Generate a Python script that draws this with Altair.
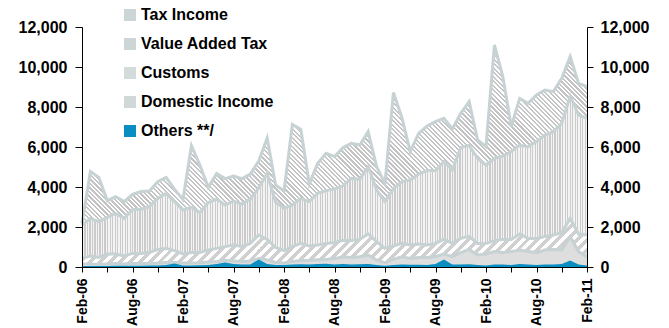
import math
import json
import altair as alt
import pandas as pd

# ---------------- data ----------------
MONTHS = list(range(61))  # month index, 0 = Feb-06 ... 60 = Feb-11
TICK_LABELS = ["Feb-06", "Aug-06", "Feb-07", "Aug-07", "Feb-08", "Aug-08",
               "Feb-09", "Aug-09", "Feb-10", "Aug-10", "Feb-11"]
Y_TICKS = [0, 2000, 4000, 6000, 8000, 10000, 12000]
SERIES = ["Tax Income", "Value Added Tax", "Customs", "Domestic Income", "Others **/"]

TAX_INCOME = [2200, 4770, 4480, 3320, 3520, 3270, 3630, 3770, 3800, 4270,
              4480, 3880, 3380, 6070, 5100, 3980, 4670, 4420, 4550, 4420,
              4650, 5300, 6450, 4100, 3800, 7130, 6880, 4150, 5180, 5680,
              5520, 5960, 6180, 6100, 6770, 5020, 4180, 8720, 7480, 5770,
              6680, 7050, 7270, 7430, 6900, 7680, 8270, 6350, 6020, 11100,
              9520, 7020, 8430, 8180, 8600, 8850, 8770, 9430, 10520, 9180, 9020]
VAT = [2100, 2430, 2270, 2480, 2680, 2430, 2880, 2880, 3020, 3430,
       3680, 3270, 2850, 2980, 2720, 3220, 3400, 3100, 3300, 3150,
       3400, 3950, 4670, 3250, 2930, 3100, 3430, 3270, 3680, 3820,
       3900, 4060, 4430, 4380, 5020, 3850, 3270, 3920, 4270, 4350,
       4650, 4820, 4820, 5270, 4850, 5980, 6080, 5430, 5100, 5430,
       5550, 5770, 6100, 6020, 6270, 6600, 6770, 7180, 8550, 7600, 7430]
CUSTOMS = [430, 550, 480, 650, 650, 550, 680, 680, 720, 880,
           930, 820, 650, 720, 720, 850, 930, 1020, 1100, 1030,
           1180, 1600, 1380, 980, 820, 1020, 1180, 1050, 1100, 1180,
           1230, 1330, 1320, 1380, 1650, 1270, 930, 1050, 1180, 1100,
           1150, 1100, 1180, 1380, 1180, 1430, 1530, 1180, 1180, 1320,
           1380, 1380, 1650, 1430, 1430, 1520, 1600, 1720, 2430, 1650, 1600]
DOMESTIC = [150, 150, 130, 150, 170, 150, 170, 170, 180, 200,
            230, 230, 200, 200, 210, 250, 280, 320, 300, 280,
            300, 420, 350, 230, 200, 280, 330, 340, 360, 380,
            420, 510, 480, 510, 600, 350, 200, 380, 510, 430,
            480, 480, 520, 650, 520, 720, 880, 600, 650, 770,
            720, 770, 850, 770, 720, 850, 880, 850, 1520, 770, 520]
OTHERS = [50, 50, 50, 50, 60, 60, 60, 60, 70, 80,
          100, 170, 80, 80, 90, 100, 150, 230, 150, 120,
          130, 380, 150, 100, 100, 130, 140, 120, 150, 160,
          120, 150, 130, 140, 150, 100, 60, 100, 120, 110,
          110, 100, 150, 380, 130, 120, 140, 100, 80, 120,
          130, 100, 150, 120, 100, 120, 130, 150, 330, 120, 80]

VALUES = [TAX_INCOME, VAT, CUSTOMS, DOMESTIC, OTHERS]

# ---------------- style ----------------
FONT = "Liberation Sans"
PLOT_W, PLOT_H = 505, 240
Y_MAX = 12000
LINE_COLOR = "#c6d2d3"
TEAL = "#0a8dc0"
LEGEND_COLORS = ["#cdd6d6", "#cdd6d6", "#d3dbdb", "#d0d8d8", TEAL]


def diag_gradient(W, H, period, c_line, c_bg, frac, direction):
    n = max(1, int(round((W + H) / (math.sqrt(2) * period))))
    D = W * W + H * H
    s = H * (W + H) / D
    if direction == "/":
        x1, y1, x2, y2 = 0, 0, s * W / H, s
    else:
        x1, y1, x2, y2 = 0, 1, s * W / H, 1 - s
    stops = []
    for i in range(n):
        a, b, c = i / n, (i + frac) / n, (i + 1) / n
        stops += [{"offset": round(a, 5), "color": c_line},
                  {"offset": round(b, 5), "color": c_line},
                  {"offset": round(b, 5), "color": c_bg},
                  {"offset": round(c, 5), "color": c_bg}]
    return {"gradient": "linear", "x1": x1, "y1": y1, "x2": x2, "y2": y2, "stops": stops}


def vert_gradient(W, period, c_line, c_bg, frac):
    n = max(1, int(round(W / period)))
    stops = []
    for i in range(n):
        a, b, c = i / n, (i + frac) / n, (i + 1) / n
        stops += [{"offset": round(a, 5), "color": c_line},
                  {"offset": round(b, 5), "color": c_line},
                  {"offset": round(b, 5), "color": c_bg},
                  {"offset": round(c, 5), "color": c_bg}]
    return {"gradient": "linear", "x1": 0, "y1": 0, "x2": 1, "y2": 0, "stops": stops}


def px_height(vals):
    return max(vals) / Y_MAX * PLOT_H


FILLS = [
    diag_gradient(PLOT_W, px_height(TAX_INCOME), 3.2, "#c4c4c4", "#ffffff", 0.5, "\\"),
    vert_gradient(PLOT_W, 2.5, "#cbcbcb", "#f4f4f4", 0.45),
    diag_gradient(PLOT_W, px_height(CUSTOMS), 7.0, "#d0d0d0", "#ffffff", 0.5, "/"),
    "#dedede",
]

frames = [pd.DataFrame({"m": MONTHS, "v": vals, "series": name})
          for name, vals in zip(SERIES, VALUES)]

label_expr = ("datum.value % 6 == 0 ? " + json.dumps(TICK_LABELS) +
              "[datum.value / 6] : ''")

x_enc = alt.X("m:Q",
              scale=alt.Scale(domain=[0, 60], nice=False, zero=False),
              axis=alt.Axis(values=list(range(0, 61, 3)), labelExpr=label_expr,
                            title=None, labelAngle=-90, labelFontSize=14,
                            tickSize=5, labelPadding=6, grid=False, zindex=1))

y_scale = alt.Scale(domain=[0, Y_MAX], nice=False)
y_left = alt.Y("v:Q", scale=y_scale, stack=None,
               axis=alt.Axis(orient="left", values=Y_TICKS, format=",d", title=None,
                             tickSize=7, labelPadding=8, grid=False, zindex=1))
y_right = alt.Y("v:Q", scale=y_scale, stack=None,
                axis=alt.Axis(orient="right", values=Y_TICKS, format=",d", title=None,
                              tickSize=6, labelPadding=7, grid=False, zindex=1))
y_none = alt.Y("v:Q", scale=y_scale, stack=None, axis=None)

layers = []
for i in range(4):
    area = alt.Chart(frames[i]).mark_area(fill=FILLS[i], strokeWidth=0).encode(
        x=x_enc, y=(y_left if i == 0 else y_none))
    line = alt.Chart(frames[i]).mark_line(color=LINE_COLOR, strokeWidth=3).encode(
        x=x_enc, y=(y_right if i == 0 else y_none))
    layers += [area, line]

others = alt.Chart(frames[4]).mark_area(opacity=1).encode(
    x=x_enc, y=y_none,
    color=alt.Color("series:N",
                    scale=alt.Scale(domain=SERIES, range=LEGEND_COLORS),
                    legend=alt.Legend(orient="none", legendX=40, legendY=-20,
                                      title=None, symbolType="square", symbolSize=144,
                                      symbolStrokeWidth=0, symbolOpacity=1,
                                      labelFont=FONT, labelFontSize=16,
                                      labelFontWeight="bold", labelColor="black",
                                      rowPadding=13, padding=0, labelOffset=3,
                                      direction="vertical", labelLimit=300)))
layers.append(others)

chart = alt.layer(*layers).resolve_axis(y="independent").properties(
    width=PLOT_W, height=PLOT_H,
    autosize=alt.AutoSizeParams(type="none"),
    padding={"left": 82, "top": 27, "right": 82, "bottom": 61},
    background="white",
).configure_view(stroke=None).configure_axis(
    labelFont=FONT, labelFontSize=16, labelFontWeight="bold", labelColor="black",
    domainColor="black", tickColor="black", domainWidth=1, tickWidth=1,
)

chart.save("out.html", embed_options={"renderer": "svg", "actions": False})
